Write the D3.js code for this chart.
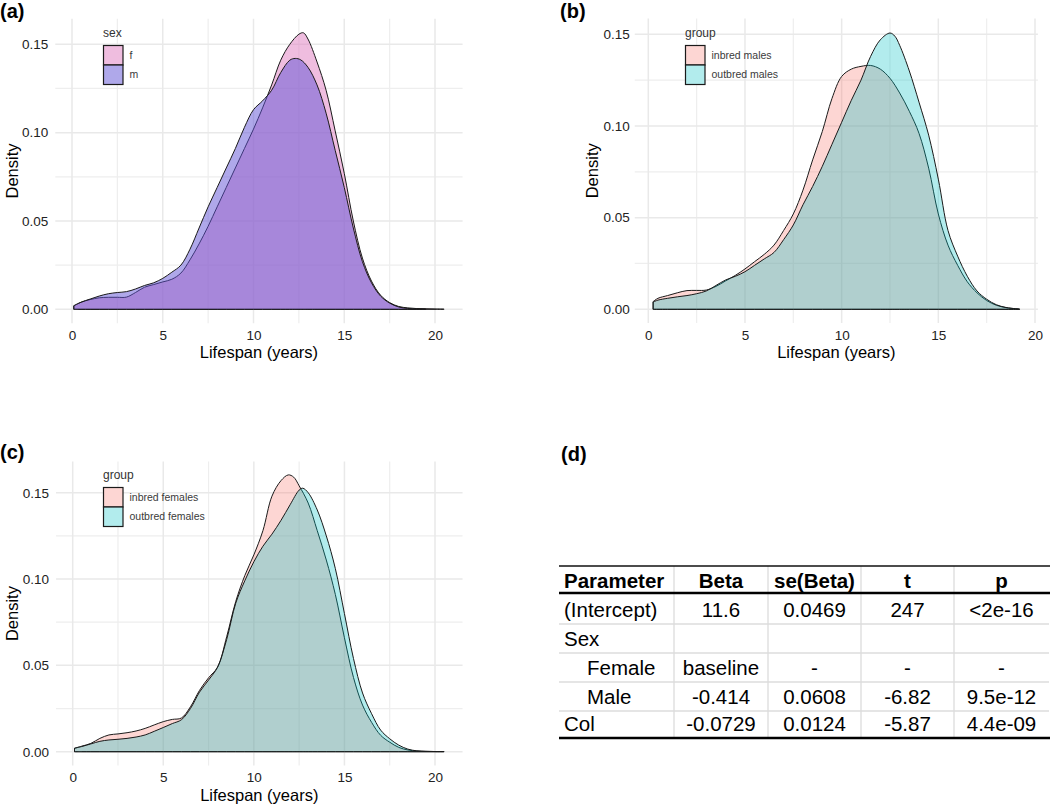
<!DOCTYPE html>
<html>
<head>
<meta charset="utf-8">
<script src="https://cdn.jsdelivr.net/npm/d3@7"></script>
<style>
  html, body { margin: 0; padding: 0; background: #fff; }
  svg { display: block; font-family: "Liberation Sans", Arial, sans-serif; }
</style>
</head>
<body>
<svg id="chart" width="1050" height="806"></svg>
<script>
// ---------------- DATA ----------------
const xTicks = [0, 5, 10, 15, 20];
const yTicks = [0, 0.05, 0.10, 0.15];
const xMinor = [2.5, 7.5, 12.5, 17.5];
const yMinor = [0.025, 0.075, 0.125];

// Panel (a): density by sex  [lifespan, density]
const seriesA_f = [[0.1,0.002],[0.5,0.004],[1,0.0055],[1.5,0.0065],[2,0.0068],[2.5,0.0068],[3,0.0069],[3.5,0.0095],[4,0.0125],[4.5,0.014],[5,0.0155],[5.5,0.017],[6,0.0205],[6.5,0.028],[7,0.037],[7.5,0.047],[8,0.058],[8.5,0.069],[9,0.080],[9.5,0.091],[10,0.102],[10.5,0.114],[11,0.127],[11.5,0.141],[12,0.150],[12.5,0.1557],[12.75,0.1565],[13,0.153],[13.5,0.140],[14,0.124],[14.5,0.101],[15,0.077],[15.5,0.050],[16,0.029],[16.5,0.016],[17,0.008],[17.5,0.0038],[18,0.0016],[18.5,0.0008],[19,0.0004],[19.5,0.0003],[20,0.0002],[20.5,0.0001]];
const seriesA_m = [[0.1,0.002],[0.5,0.004],[1,0.0058],[1.5,0.0075],[2,0.0088],[2.5,0.0095],[3,0.010],[3.5,0.0115],[4,0.0135],[4.5,0.015],[5,0.0175],[5.5,0.021],[6,0.025],[6.5,0.034],[7,0.046],[7.5,0.058],[8,0.069],[8.5,0.080],[9,0.091],[9.5,0.103],[10,0.113],[10.5,0.118],[11,0.124],[11.5,0.134],[12,0.141],[12.3,0.142],[12.6,0.1412],[13,0.137],[13.5,0.127],[14,0.111],[14.5,0.090],[15,0.069],[15.5,0.046],[16,0.027],[16.5,0.015],[17,0.0075],[17.5,0.0035],[18,0.0013],[18.5,0.0005],[19,0.0002],[19.5,0.0001]];

// Panel (b): males by breeding group
const seriesB_inbred = [[0.25,0.0042],[0.5,0.006],[1,0.0075],[1.5,0.009],[2,0.0102],[2.5,0.0103],[3,0.0105],[3.5,0.0125],[4,0.0155],[4.5,0.0185],[5,0.022],[5.5,0.026],[6,0.030],[6.5,0.035],[7,0.043],[7.5,0.052],[8,0.065],[8.5,0.0815],[9,0.097],[9.5,0.115],[10,0.127],[10.5,0.131],[11,0.1325],[11.5,0.133],[12,0.131],[12.5,0.126],[13,0.118],[13.5,0.108],[14,0.096],[14.5,0.077],[15,0.052],[15.5,0.035],[16,0.024],[16.5,0.015],[17,0.009],[17.5,0.0048],[18,0.0022],[18.5,0.0009],[19,0.0003],[19.2,0.0001]];
const seriesB_outbred = [[0.25,0.004],[0.5,0.005],[1,0.006],[1.5,0.0068],[2,0.0075],[2.5,0.0085],[3,0.010],[3.5,0.013],[4,0.016],[4.5,0.018],[5,0.0205],[5.5,0.024],[6,0.0275],[6.5,0.031],[7,0.038],[7.5,0.046],[8,0.057],[8.5,0.067],[9,0.078],[9.5,0.090],[10,0.102],[10.5,0.114],[11,0.125],[11.5,0.138],[12,0.147],[12.5,0.1507],[12.75,0.149],[13,0.144],[13.5,0.130],[14,0.113],[14.5,0.095],[15,0.071],[15.5,0.043],[16,0.029],[16.5,0.018],[17,0.010],[17.5,0.0055],[18,0.0025],[18.5,0.001],[19,0.0003],[19.2,0.0001]];

// Panel (c): females by breeding group
const seriesC_inbred = [[0.1,0.002],[0.5,0.0032],[1,0.0048],[1.5,0.0077],[2,0.0097],[2.5,0.0103],[3,0.011],[3.5,0.012],[4,0.0135],[4.5,0.0155],[5,0.0174],[5.5,0.0187],[6,0.0195],[6.5,0.026],[7,0.0355],[7.5,0.0428],[8,0.049],[8.5,0.0666],[9,0.087],[9.5,0.102],[10,0.114],[10.5,0.128],[11,0.148],[11.5,0.157],[11.9,0.1603],[12.2,0.159],[12.5,0.154],[13,0.144],[13.5,0.128],[14,0.111],[14.5,0.091],[15,0.066],[15.5,0.043],[16,0.027],[16.5,0.017],[17,0.0095],[17.5,0.0055],[18,0.0025],[18.5,0.001],[19,0.0004],[19.5,0.0002],[20,0.0001],[20.5,0.0001]];
const seriesC_outbred = [[0.1,0.002],[0.5,0.003],[1,0.0045],[1.5,0.006],[2,0.0068],[2.5,0.0072],[3,0.0077],[3.5,0.0085],[4,0.0097],[4.5,0.0118],[5,0.014],[5.5,0.0163],[6,0.0185],[6.5,0.025],[7,0.0345],[7.5,0.0415],[8,0.049],[8.5,0.065],[9,0.086],[9.5,0.099],[10,0.110],[10.5,0.119],[11,0.126],[11.5,0.134],[12,0.143],[12.5,0.1515],[12.7,0.1526],[13,0.150],[13.5,0.140],[14,0.125],[14.5,0.106],[15,0.080],[15.5,0.054],[16,0.034],[16.5,0.022],[17,0.0125],[17.5,0.0075],[18,0.0038],[18.5,0.0015],[19,0.0005],[19.5,0.0002],[20,0.0001],[20.5,0.0001]];

const legendA = { title: "sex", labels: ["f", "m"] };
const legendB = { title: "group", labels: ["inbred males", "outbred males"] };
const legendC = { title: "group", labels: ["inbred females", "outbred females"] };

const xTitle = "Lifespan (years)";
const yTitle = "Density";

// Panel (d): model table
const tableHeader = ["Parameter", "Beta", "se(Beta)", "t", "p"];
const tableRows = [
  ["(Intercept)", "11.6", "0.0469", "247", "<2e-16"],
  ["Sex", "", "", "", ""],
  ["Female", "baseline", "-", "-", "-"],
  ["Male", "-0.414", "0.0608", "-6.82", "9.5e-12"],
  ["Col", "-0.0729", "0.0124", "-5.87", "4.4e-09"]
];
const rowIndent = [0, 0, 1, 1, 0];

// ---------------- DRAW ----------------
const svg = d3.select("#chart");

function drawPanel(cfg) {
  const xs = d3.scaleLinear().domain([0, 20]).range([cfg.px0, cfg.px20]);
  const ys = d3.scaleLinear().domain([0, 0.15]).range([cfg.py0, cfg.py15]);
  const left = xs(cfg.xDom[0]), right = xs(cfg.xDom[1]);
  const top = ys(cfg.yDom[1]), bottom = ys(cfg.yDom[0]);
  const g = svg.append("g");

  // grid
  const grid = g.append("g");
  grid.selectAll(".vmin").data(xMinor).join("line")
    .attr("x1", d => xs(d)).attr("x2", d => xs(d)).attr("y1", top).attr("y2", bottom)
    .attr("stroke", "#eeeeee").attr("stroke-width", 1.2);
  grid.selectAll(".hmin").data(yMinor).join("line")
    .attr("y1", d => ys(d)).attr("y2", d => ys(d)).attr("x1", left).attr("x2", right)
    .attr("stroke", "#eeeeee").attr("stroke-width", 1.2);
  grid.selectAll(".vmaj").data(xTicks).join("line")
    .attr("x1", d => xs(d)).attr("x2", d => xs(d)).attr("y1", top).attr("y2", bottom)
    .attr("stroke", "#e9e9e9").attr("stroke-width", 1.5);
  grid.selectAll(".hmaj").data(yTicks).join("line")
    .attr("y1", d => ys(d)).attr("y2", d => ys(d)).attr("x1", left).attr("x2", right)
    .attr("stroke", "#e9e9e9").attr("stroke-width", 1.5);

  // densities
  const area = d3.area().x(d => xs(d[0])).y0(ys(0)).y1(d => ys(d[1]))
    .curve(d3.curveCatmullRom.alpha(0.5));
  cfg.series.forEach(s => {
    g.append("path").datum(s.data).attr("d", area)
      .attr("fill", s.color).attr("fill-opacity", s.alpha)
      .attr("stroke", "#1a1a1a").attr("stroke-width", 1).attr("stroke-linejoin", "round");
  });

  // axes
  const ax = g.append("g").attr("transform", `translate(0,${bottom})`)
    .call(d3.axisBottom(xs).tickValues(xTicks).tickSize(0).tickPadding(7));
  ax.select(".domain").remove();
  ax.selectAll("text").attr("font-size", 13.5).attr("fill", "#222")
    .attr("font-family", "Liberation Sans, Arial, sans-serif");
  const ay = g.append("g").attr("transform", `translate(${left},0)`)
    .call(d3.axisLeft(ys).tickValues(yTicks).tickFormat(d3.format(".2f")).tickSize(0).tickPadding(cfg.yPad));
  ay.select(".domain").remove();
  ay.selectAll("text").attr("font-size", 13.5).attr("fill", "#222")
    .attr("font-family", "Liberation Sans, Arial, sans-serif");

  // titles
  g.append("text").attr("x", (left + right) / 2).attr("y", cfg.xTitleY)
    .attr("text-anchor", "middle").attr("font-size", 16.5).attr("fill", "#000").text(xTitle);
  g.append("text").attr("transform", `translate(${cfg.yTitleX},${(top + bottom) / 2}) rotate(-90)`)
    .attr("text-anchor", "middle").attr("dy", "0.35em").attr("font-size", 16.5).attr("fill", "#000").text(yTitle);

  // legend
  const lg = g.append("g").attr("transform", `translate(${cfg.legX},${cfg.legY})`);
  lg.append("text").attr("x", 0).attr("y", 0).attr("font-size", 12).attr("fill", "#333").text(cfg.legend.title);
  const key = 19.5;
  cfg.legend.labels.forEach((lab, i) => {
    lg.append("rect").attr("x", 0.5).attr("y", 8.5 + i * key).attr("width", key).attr("height", key)
      .attr("fill", "#fff");
    lg.append("rect").attr("x", 0.5).attr("y", 8.5 + i * key).attr("width", key).attr("height", key)
      .attr("fill", cfg.series[i].color).attr("fill-opacity", cfg.series[i].alpha)
      .attr("stroke", "#1a1a1a").attr("stroke-width", 1.2);
    lg.append("text").attr("x", key + 7).attr("y", 8.5 + i * key + key / 2).attr("dy", "0.35em")
      .attr("font-size", 10.5).attr("fill", "#3a3a3a").text(lab);
  });

  // tag
  svg.append("text").attr("x", cfg.tagX).attr("y", cfg.tagY).attr("font-size", 20)
    .attr("font-weight", "bold").attr("fill", "#000").text(cfg.tag);
}

drawPanel({
  tag: "(a)", tagX: 0, tagY: 18,
  px0: 72, px20: 435, py0: 309.3, py15: 44.3,
  xDom: [-0.92, 21.52], yDom: [-0.0079, 0.1645], yPad: 7,
  xTitleY: 358, yTitleX: 12,
  legX: 103, legY: 37, legend: legendA,
  series: [
    { data: seriesA_f, color: "#e07bc0", alpha: 0.5 },
    { data: seriesA_m, color: "#5f52d6", alpha: 0.5 }
  ]
});

drawPanel({
  tag: "(b)", tagX: 560, tagY: 18,
  px0: 648.3, px20: 1035, py0: 309.3, py15: 34.3,
  xDom: [-0.7, 20.15], yDom: [-0.0075, 0.1586], yPad: 5,
  xTitleY: 358, yTitleX: 592,
  legX: 685, legY: 37, legend: legendB,
  series: [
    { data: seriesB_inbred, color: "#F8766D", alpha: 0.3 },
    { data: seriesB_outbred, color: "#00BFC4", alpha: 0.3 }
  ]
});

drawPanel({
  tag: "(c)", tagX: 0, tagY: 459,
  px0: 72.7, px20: 435, py0: 751.7, py15: 492.7,
  xDom: [-0.92, 21.52], yDom: [-0.008, 0.168], yPad: 7,
  xTitleY: 801, yTitleX: 12,
  legX: 103, legY: 479, legend: legendC,
  series: [
    { data: seriesC_inbred, color: "#F8766D", alpha: 0.3 },
    { data: seriesC_outbred, color: "#00BFC4", alpha: 0.3 }
  ]
});

// ---------------- TABLE (d) ----------------
svg.append("text").attr("x", 561).attr("y", 461).attr("font-size", 20)
  .attr("font-weight", "bold").attr("fill", "#000").text("(d)");

const colEdges = [559, 674, 768, 861, 954, 1049];
const rowEdges = [566, 593, 624, 653, 682, 711, 738];
const tg = svg.append("g");

// light grid lines
tg.selectAll(".vsep").data(colEdges.slice(1, -1)).join("line")
  .attr("x1", d => d).attr("x2", d => d).attr("y1", rowEdges[0]).attr("y2", rowEdges[rowEdges.length - 1])
  .attr("stroke", "#dcdcdc").attr("stroke-width", 1.3);
tg.selectAll(".hsep").data(rowEdges.slice(2, -1)).join("line")
  .attr("x1", colEdges[0]).attr("x2", colEdges[colEdges.length - 1]).attr("y1", d => d).attr("y2", d => d)
  .attr("stroke", "#dcdcdc").attr("stroke-width", 1.3);
// rules
tg.append("line").attr("x1", colEdges[0]).attr("x2", 1050).attr("y1", rowEdges[0]).attr("y2", rowEdges[0])
  .attr("stroke", "#111").attr("stroke-width", 1.3);
tg.append("line").attr("x1", colEdges[0]).attr("x2", 1050).attr("y1", rowEdges[1]).attr("y2", rowEdges[1])
  .attr("stroke", "#000").attr("stroke-width", 2.4);
tg.append("line").attr("x1", colEdges[0]).attr("x2", 1050).attr("y1", rowEdges[6]).attr("y2", rowEdges[6])
  .attr("stroke", "#000").attr("stroke-width", 2.4);

function cellX(ci, indent) {
  if (ci === 0) return colEdges[0] + 5 + (indent ? 23 : 0);
  return (colEdges[ci] + colEdges[ci + 1]) / 2;
}
tableHeader.forEach((h, ci) => {
  tg.append("text").attr("x", cellX(ci, 0)).attr("y", rowEdges[1] - 5)
    .attr("text-anchor", ci === 0 ? "start" : "middle")
    .attr("font-size", 20.5).attr("font-weight", "bold").attr("fill", "#000").text(h);
});
tableRows.forEach((row, ri) => {
  row.forEach((v, ci) => {
    if (v === "") return;
    tg.append("text").attr("x", cellX(ci, rowIndent[ri])).attr("y", rowEdges[ri + 2] - 7)
      .attr("text-anchor", ci === 0 ? "start" : "middle")
      .attr("font-size", 20.5).attr("fill", "#000").text(v);
  });
});
</script>
</body>
</html>
